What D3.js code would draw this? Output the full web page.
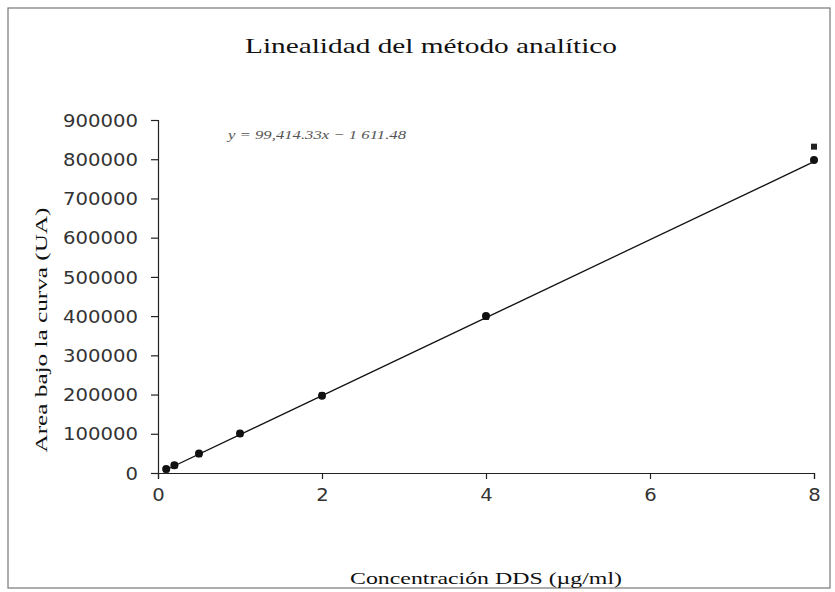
<!DOCTYPE html>
<html>
<head>
<meta charset="utf-8">
<script src="https://cdn.jsdelivr.net/npm/d3@7"></script>
<style>
  body { margin: 0; background: #fff; }
  svg { display: block; }
</style>
</head>
<body>
<svg id="chart"></svg>
<script>
// concentrations (µg/ml) and the two replicate readings
var conc = [0.1, 0.2, 0.5, 1, 2, 4, 8];
var rep1 = [9000, 19000, 48000, 100000, 198000, 398000, 832000];
var rep2 = [10000, 20000, 50000, 101000, 197000, 400000, 798000];
var xTicks = [0, 2, 4, 6, 8];
var yTicks = [0, 100000, 200000, 300000, 400000, 500000, 600000, 700000, 800000, 900000];
// trend line as printed on the chart
var slope = 99414.33, intercept = -1611.48;
var equation = "y = 99,414.33x − 1 611.48";

document.addEventListener("DOMContentLoaded", function() {
  drawChart();
});

function drawChart(){
  var svgWidth = 835, svgHeight = 592;
  var margin = { top: 120, right: 21, bottom: 119, left: 158 };
  var width = svgWidth - margin.left - margin.right;
  var height = svgHeight - margin.top - margin.bottom;

  var svg = d3.select('#chart')
    .attr("width", svgWidth)
    .attr("height", svgHeight);

  // outer frame of the scanned figure
  svg.append("rect")
    .attr("x", 8).attr("y", 8)
    .attr("width", 822).attr("height", 580)
    .attr("fill", "none")
    .attr("stroke", "#777")
    .attr("stroke-width", 1.2);

  var chart = svg.append('g')
    .attr('transform', `translate(${margin.left}, ${margin.top})`);

  var x = d3.scaleLinear().domain([0, 8]).range([0, width]);
  var y = d3.scaleLinear().domain([0, 900000]).range([height, 0]);

  var xAxis = chart.append("g")
    .attr("transform", `translate(0, ${height})`)
    .call(d3.axisBottom(x).tickValues(xTicks).tickFormat(d3.format("d")).tickSizeOuter(0).tickSize(6));

  var yAxis = chart.append("g")
    .call(d3.axisLeft(y).tickValues(yTicks).tickFormat(d3.format("d")).tickSizeOuter(0).tickSize(7));

  [xAxis, yAxis].forEach(function(ax){
    ax.select(".domain").attr("stroke", "#222").attr("stroke-width", 1.2);
    ax.selectAll(".tick line").attr("stroke", "#222").attr("stroke-width", 1.2);
    ax.selectAll("text")
      .attr("font-family", "DejaVu Sans")
      .attr("font-size", 17)
      .attr("fill", "#333")
      .attr("textLength", function() { return 12.5 * this.textContent.length; })
      .attr("lengthAdjust", "spacingAndGlyphs");
  });
  xAxis.selectAll("text").attr("dy", "1.1em");
  yAxis.selectAll("text").attr("x", -20).attr("dy", "0.36em");

  // regression line
  var line = d3.line()
    .x(d => x(d))
    .y(d => y(slope * d + intercept));
  chart.append("path")
    .datum(d3.extent(conc))
    .attr("d", line)
    .attr("fill", "none")
    .attr("stroke", "#111")
    .attr("stroke-width", 1.3);

  // replicate 1: squares
  var symSq = d3.symbol().type(d3.symbolSquare).size(36);
  chart.selectAll(".sq")
    .data(conc.map((c, i) => [c, rep1[i]]))
    .enter()
    .append("path")
    .attr("class", "sq")
    .attr("transform", d => `translate(${x(d[0])}, ${y(d[1])})`)
    .attr("d", symSq)
    .attr("fill", "#222");

  // replicate 2: circles
  chart.selectAll(".dot")
    .data(conc.map((c, i) => [c, rep2[i]]))
    .enter()
    .append("circle")
    .attr("class", "dot")
    .attr("cx", d => x(d[0]))
    .attr("cy", d => y(d[1]))
    .attr("r", 4)
    .attr("fill", "#111");

  // equation
  svg.append("text")
    .attr("x", 228).attr("y", 139)
    .attr("font-family", "Liberation Serif")
    .attr("font-style", "italic")
    .attr("font-size", 13)
    .attr("fill", "#555")
    .attr("textLength", 178)
    .attr("lengthAdjust", "spacingAndGlyphs")
    .text(equation);

  // title
  svg.append("text")
    .attr("x", 431).attr("y", 53)
    .attr("text-anchor", "middle")
    .attr("font-family", "Liberation Serif")
    .attr("font-size", 22)
    .attr("fill", "#111")
    .attr("textLength", 372)
    .attr("lengthAdjust", "spacingAndGlyphs")
    .text("Linealidad del método analítico");

  // axis titles
  svg.append("text")
    .attr("x", 486).attr("y", 584)
    .attr("text-anchor", "middle")
    .attr("font-family", "Liberation Serif")
    .attr("font-size", 17)
    .attr("fill", "#111")
    .attr("textLength", 272)
    .attr("lengthAdjust", "spacingAndGlyphs")
    .text("Concentración DDS (µg/ml)");

  svg.append("text")
    .attr("transform", "translate(47, 330) rotate(-90)")
    .attr("text-anchor", "middle")
    .attr("font-family", "Liberation Serif")
    .attr("font-size", 17)
    .attr("fill", "#111")
    .attr("textLength", 245)
    .attr("lengthAdjust", "spacingAndGlyphs")
    .text("Area bajo la curva (UA)");
}
</script>
</body>
</html>
